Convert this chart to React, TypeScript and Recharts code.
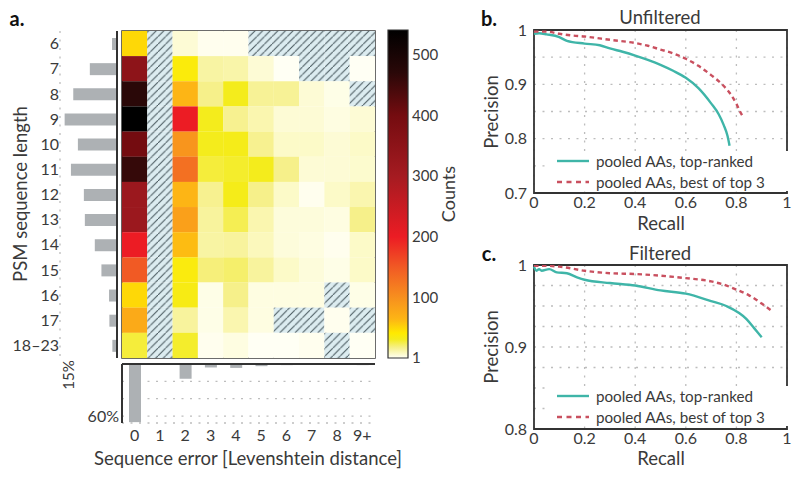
import React from "react";
import {
  Bar,
  BarChart,
  CartesianGrid,
  Legend,
  Line,
  LineChart,
  ReferenceArea,
  ReferenceLine,
  Scatter,
  ScatterChart,
  XAxis,
  YAxis,
} from "recharts";

const FONT = "Lato, sans-serif";
const INK = "#3a3a3a";
const SPINE = "#333333";
const GREY_BAR = "#adb1b4";
const GRID = "#bdbdbd";
const TEAL = "#3fb5a8";
const RED = "#c9505f";

const rowLabels = ["6", "7", "8", "9", "10", "11", "12", "13", "14", "15", "16", "17", "18–23"];
const colLabels = ["0", "1", "2", "3", "4", "5", "6", "7", "8", "9+"];

// null = no PSMs (hatched)
const counts: (number | null)[][] = [
  [50, null, 6, 2, 2, null, null, null, null, null],
  [350, null, 38, 14, 13, 6, 1, null, null, 1],
  [470, null, 65, 18, 32, 16, 16, 6, 3, null],
  [540, null, 200, 32, 17, 12, 6, 6, 4, 6],
  [400, null, 95, 32, 33, 17, 8, 8, 6, 8],
  [460, null, 130, 28, 30, 32, 18, 6, 6, 7],
  [320, null, 65, 17, 33, 18, 8, 2, 8, 12],
  [320, null, 85, 15, 25, 12, 5, 5, 4, 18],
  [200, null, 62, 14, 15, 10, 5, 4, 2, 8],
  [150, null, 37, 20, 22, 15, 8, 5, 3, 8],
  [50, null, 35, 3, 18, 4, 4, 4, null, 3],
  [75, null, 15, 3, 12, 4, null, null, 2, null],
  [28, null, 30, 2, 4, 1, 1, 2, null, 1],
];

const lengthShare = [1.5, 8.2, 13.2, 15.8, 11.8, 13.9, 10, 9.7, 6.7, 4.7, 2.4, 2.3, 1.4];
const errorShare = [67, 0, 17, 4, 4.5, 2.5, 1.3, 1, 0.3, 1.3];

const countTicks = [1, 100, 200, 300, 400, 500];
const colorStops: [number, string][] = [
  [1, "#fffff4"],
  [8, "#fcfac8"],
  [18, "#f6f08a"],
  [32, "#f4ec1c"],
  [42, "#ffea00"],
  [65, "#fdb515"],
  [100, "#f7901e"],
  [150, "#f15a24"],
  [200, "#ec1c24"],
  [300, "#a51b21"],
  [400, "#740c10"],
  [470, "#2a0808"],
  [540, "#000000"],
];

const recallB1 = [0, 0.02, 0.05, 0.1, 0.13, 0.2, 0.26, 0.3, 0.35, 0.4, 0.45, 0.5, 0.55, 0.6, 0.65, 0.7, 0.73, 0.75, 0.765, 0.773];
const precisionB1 = [0.993, 0.994, 0.992, 0.987, 0.98, 0.975, 0.972, 0.966, 0.96, 0.953, 0.945, 0.936, 0.925, 0.912, 0.893, 0.865, 0.845, 0.825, 0.805, 0.787];
const recallB2 = [0, 0.05, 0.1, 0.15, 0.2, 0.3, 0.4, 0.45, 0.5, 0.55, 0.6, 0.65, 0.7, 0.75, 0.78, 0.8, 0.82, 0.83];
const precisionB2 = [0.997, 0.997, 0.993, 0.99, 0.988, 0.982, 0.976, 0.971, 0.964, 0.957, 0.947, 0.934, 0.917, 0.897, 0.88, 0.864, 0.845, 0.838];
const recallC1 = [0, 0.01, 0.02, 0.03, 0.06, 0.09, 0.13, 0.17, 0.2, 0.3, 0.4, 0.5, 0.6, 0.7, 0.76, 0.84, 0.87, 0.9];
const precisionC1 = [0.998, 0.993, 0.995, 0.993, 0.995, 0.991, 0.99, 0.985, 0.982, 0.978, 0.975, 0.969, 0.965, 0.956, 0.95, 0.934, 0.923, 0.912];
const recallC2 = [0, 0.05, 0.1, 0.2, 0.3, 0.4, 0.5, 0.6, 0.7, 0.75, 0.8, 0.85, 0.9, 0.94];
const precisionC2 = [0.999, 0.999, 0.998, 0.993, 0.99, 0.989, 0.987, 0.984, 0.98, 0.976, 0.97, 0.963, 0.953, 0.944];

const recallTicks = [0, 0.2, 0.4, 0.6, 0.8, 1];
const precisionTicksB = [0.7, 0.75, 0.8, 0.85, 0.9, 0.95, 1];
const precisionTicksC = [0.8, 0.825, 0.85, 0.875, 0.9, 0.925, 0.95, 0.975, 1];
const precisionLabelsB = [0.7, 0.8, 0.9, 1];
const precisionLabelsC = [0.8, 0.9, 1];

const seriesNames = ["pooled AAs, top-ranked", "pooled AAs, best of top 3"];

const zip = (recall: number[], precision: number[]) =>
  recall.map((r, i) => ({ recall: r, precision: precision[i] }));

const lengthTable = rowLabels.map((label, i) => ({ label, share: lengthShare[i] }));
const errorTable = colLabels.map((label, i) => ({ label, share: errorShare[i] }));
const cellTable = counts.flatMap((row, r) =>
  row.map((count, c) => ({ col: c, row: r, count }))
);
const colIndex = colLabels.map((_, i) => i);
const rowIndex = rowLabels.map((_, i) => i);

function hexToRgb(hex: string) {
  return [1, 3, 5].map((i) => parseInt(hex.slice(i, i + 2), 16));
}

function countColor(v: number) {
  for (let i = 1; i < colorStops.length; i++) {
    const [v0, c0] = colorStops[i - 1];
    const [v1, c1] = colorStops[i];
    if (v <= v1) {
      const t = (v - v0) / (v1 - v0);
      const a = hexToRgb(c0);
      const b = hexToRgb(c1);
      return `rgb(${a.map((x, k) => Math.round(x + (b[k] - x) * t)).join(",")})`;
    }
  }
  return "#000000";
}

function HeatCell(props: any) {
  const { cx, cy, payload } = props;
  const w = 25.4;
  const h = 25.25;
  return (
    <rect
      x={cx - w / 2}
      y={cy - h / 2}
      width={w}
      height={h}
      fill={payload.count === null ? "url(#hatch)" : countColor(payload.count)}
      stroke="none"
    />
  );
}

const NoLabel = () => <g />;

function Caption({ x, y, size = 18.5, bold, rotate, children }: any) {
  return (
    <div
      style={{
        position: "absolute",
        left: x,
        top: y,
        transform: `translate(-50%, -50%)${rotate ? ` rotate(${rotate}deg)` : ""}`,
        fontFamily: FONT,
        fontSize: size,
        fontWeight: bold ? 700 : 400,
        color: bold ? "#111" : INK,
        whiteSpace: "nowrap",
        lineHeight: 1,
      }}
    >
      {children}
    </div>
  );
}

function PrLegend({ payload }: any) {
  return (
    <div style={{ background: "#fff", height: 40 }}>
      {(payload || []).map((entry: any, i: number) => (
        <div key={i} style={{ position: "absolute", left: 7, top: i * 20.7, height: 20, whiteSpace: "nowrap" }}>
          <svg width={34} height={20} style={{ position: "absolute", left: 0, top: 0 }}>
            <line
              x1={0}
              x2={32}
              y1={10}
              y2={10}
              stroke={entry.color}
              strokeWidth={2.4}
              strokeDasharray={i === 1 ? "5 4.5" : undefined}
            />
          </svg>
          <span
            style={{
              position: "absolute",
              left: 39,
              top: 1,
              fontFamily: FONT,
              fontSize: 15.2,
              lineHeight: "18px",
              color: INK,
            }}
          >
            {entry.value}
          </span>
        </div>
      ))}
    </div>
  );
}

function PrPanel({ top, plotHeight, domain, ticks, labels, line1, line2, legendTop }: any) {
  return (
    <div style={{ position: "absolute", left: 470, top: top - 10 }}>
      <LineChart
        width={325}
        height={plotHeight + 60}
        margin={{ top: 10, right: 8, bottom: 0, left: 24 }}
      >
        <CartesianGrid stroke={GRID} strokeWidth={1.3} strokeDasharray="2 6.5" />
        <XAxis
          dataKey="recall"
          type="number"
          domain={[0, 1]}
          ticks={recallTicks}
          interval={0}
          height={50}
          axisLine={false}
          tickLine={false}
          tickSize={0}
          tickMargin={4}
          tick={{ fontFamily: FONT, fontSize: 16, fill: INK }}
          tickFormatter={(v: number) => (v === 0 || v === 1 ? String(v) : v.toFixed(1))}
        />
        <YAxis
          type="number"
          domain={domain}
          ticks={ticks}
          interval={0}
          allowDataOverflow
          width={40}
          axisLine={false}
          tickLine={false}
          tickSize={0}
          tickMargin={7}
          tick={{ fontFamily: FONT, fontSize: 16, fill: INK }}
          tickFormatter={(v: number) => (labels.includes(v) ? String(v) : "")}
        />
        <Legend
          layout="vertical"
          align="center"
          verticalAlign="middle"
          itemSorter={null}
          content={<PrLegend />}
          wrapperStyle={{ left: 80, top: legendTop + 10, width: 238, height: 40 }}
        />
        <Line
          data={line1}
          dataKey="precision"
          name={seriesNames[0]}
          type="monotone"
          stroke={TEAL}
          strokeWidth={2.4}
          dot={false}
          isAnimationActive={false}
        />
        <Line
          data={line2}
          dataKey="precision"
          name={seriesNames[1]}
          type="monotone"
          stroke={RED}
          strokeWidth={2.4}
          strokeDasharray="4.5 3.5"
          dot={false}
          isAnimationActive={false}
        />
        <ReferenceArea
          x1={0}
          x2={1}
          y1={domain[0]}
          y2={domain[1]}
          fill="none"
          stroke={SPINE}
          strokeWidth={1.8}
          ifOverflow="visible"
        />
      </LineChart>
    </div>
  );
}

export default function App() {
  return (
    <div style={{ position: "absolute", left: 0, top: 0, width: 800, height: 478, background: "#fff", overflow: "hidden" }}>
      {/* length marginal */}
      <div style={{ position: "absolute", left: 0, top: 31 }}>
        <BarChart
          width={119}
          height={329}
          layout="vertical"
          data={lengthTable}
          margin={{ top: 0, right: 2, bottom: 2, left: 0 }}
          barCategoryGap={0}
        >
          <CartesianGrid horizontal={false} stroke={GRID} strokeWidth={1.3} strokeDasharray="2 6.5" />
          <XAxis
            type="number"
            reversed
            domain={[0, 17.2]}
            ticks={[5, 10, 15]}
            height={0}
            tick={false}
            tickLine={false}
            axisLine={{ stroke: SPINE, strokeWidth: 2 }}
          />
          <YAxis
            type="category"
            dataKey="label"
            interval={0}
            width={60}
            axisLine={false}
            tickLine={false}
            tickSize={0}
            tickMargin={1}
            tick={{ fontFamily: FONT, fontSize: 16, fill: INK }}
          />
          <Bar dataKey="share" fill={GREY_BAR} barSize={12} isAnimationActive={false} />
          <ReferenceLine x={0} stroke={SPINE} strokeWidth={2} />
        </BarChart>
      </div>

      {/* heat map */}
      <div style={{ position: "absolute", left: 120, top: 29 }}>
        <ScatterChart width={257} height={331} margin={{ top: 2, right: 2, bottom: 2, left: 2 }}>
          <defs>
            <pattern id="hatch" patternUnits="userSpaceOnUse" width={7.6} height={7.6}>
              <rect width={7.6} height={7.6} fill="#dcecf0" />
              <line x1={-1} y1={8.6} x2={8.6} y2={-1} stroke="#46565c" strokeWidth={1.05} />
            </pattern>
          </defs>
          <Scatter data={cellTable} shape={HeatCell} isAnimationActive={false} />
          <XAxis
            dataKey="col"
            type="number"
            domain={[-0.5, 9.5]}
            ticks={colIndex}
            interval={0}
            height={0}
            mirror
            tick={NoLabel}
            tickSize={4}
            axisLine={false}
            tickLine={{ stroke: SPINE }}
          />
          <XAxis
            xAxisId="top"
            orientation="top"
            type="number"
            domain={[-0.5, 9.5]}
            ticks={colIndex}
            interval={0}
            height={0}
            mirror
            tick={NoLabel}
            tickSize={4}
            axisLine={false}
            tickLine={{ stroke: SPINE }}
          />
          <YAxis
            dataKey="row"
            type="number"
            reversed
            domain={[-0.5, 12.5]}
            ticks={rowIndex}
            interval={0}
            width={0}
            mirror
            tick={NoLabel}
            tickSize={4}
            axisLine={false}
            tickLine={{ stroke: SPINE }}
          />
          <YAxis
            yAxisId="right"
            orientation="right"
            type="number"
            reversed
            domain={[-0.5, 12.5]}
            ticks={rowIndex}
            interval={0}
            width={0}
            mirror
            tick={NoLabel}
            tickSize={4}
            axisLine={false}
            tickLine={{ stroke: SPINE }}
          />
          <ReferenceArea
            x1={-0.5}
            x2={9.5}
            y1={-0.5}
            y2={12.5}
            fill="none"
            stroke={SPINE}
            strokeWidth={1.5}
            ifOverflow="visible"
          />
        </ScatterChart>
      </div>

      {/* colour bar */}
      <div style={{ position: "absolute", left: 386, top: 20 }}>
        <BarChart
          width={70}
          height={348}
          data={[{ name: "Counts", top: 540 }]}
          margin={{ top: 10, right: 2, bottom: 10, left: 2 }}
          barCategoryGap={0}
        >
          <defs>
            <linearGradient id="countRamp" x1="0" y1="1" x2="0" y2="0">
              {colorStops.map(([v, c]) => (
                <stop key={v} offset={(v - 1) / 539} stopColor={c} />
              ))}
            </linearGradient>
          </defs>
          <XAxis dataKey="name" height={0} tick={false} tickLine={false} axisLine={false} />
          <YAxis
            orientation="right"
            type="number"
            domain={[1, 540]}
            ticks={countTicks}
            interval={0}
            width={46}
            axisLine={false}
            tickLine={false}
            tickSize={0}
            tickMargin={4}
            tick={{ fontFamily: FONT, fontSize: 15, fill: INK, textAnchor: "start" }}
          />
          <Bar dataKey="top" fill="url(#countRamp)" stroke={SPINE} strokeWidth={1.2} isAnimationActive={false} />
        </BarChart>
      </div>

      {/* error marginal */}
      <div style={{ position: "absolute", left: 60, top: 355 }}>
        <BarChart
          width={317}
          height={123}
          data={errorTable}
          margin={{ top: 9, right: 2, bottom: 0, left: 0 }}
          barCategoryGap={0}
        >
          <CartesianGrid vertical={false} stroke={GRID} strokeWidth={1.3} strokeDasharray="2 6.5" />
          <XAxis
            dataKey="label"
            interval={0}
            height={55}
            axisLine={false}
            tickLine={false}
            tickSize={0}
            tickMargin={7}
            tick={{ fontFamily: FONT, fontSize: 16, fill: INK }}
          />
          <YAxis
            type="number"
            reversed
            domain={[0, 68]}
            ticks={[20, 40, 60]}
            interval={0}
            width={62}
            axisLine={{ stroke: SPINE, strokeWidth: 2 }}
            tickLine={false}
            tickSize={0}
            tickMargin={3}
            tick={{ fontFamily: FONT, fontSize: 16, fill: INK }}
            tickFormatter={(v: number) => (v === 60 ? "60%" : "")}
          />
          <Bar dataKey="share" fill={GREY_BAR} barSize={12} isAnimationActive={false} />
          <ReferenceLine y={0} stroke={SPINE} strokeWidth={2} />
        </BarChart>
      </div>

      <PrPanel
        top={30}
        plotHeight={163}
        domain={[0.7, 1]}
        ticks={precisionTicksB}
        labels={precisionLabelsB}
        line1={zip(recallB1, precisionB1)}
        line2={zip(recallB2, precisionB2)}
        legendTop={121}
      />
      <PrPanel
        top={265}
        plotHeight={164}
        domain={[0.8, 1]}
        ticks={precisionTicksC}
        labels={precisionLabelsC}
        line1={zip(recallC1, precisionC1)}
        line2={zip(recallC2, precisionC2)}
        legendTop={121}
      />

      <Caption x={17} y={18} size={20} bold>a.</Caption>
      <Caption x={489} y={18} size={20} bold>b.</Caption>
      <Caption x={489} y={253} size={20} bold>c.</Caption>
      <Caption x={20} y={194} rotate={-90}>PSM sequence length</Caption>
      <Caption x={68} y={375} size={15} rotate={-90}>15%</Caption>
      <Caption x={248} y={458}>Sequence error [Levenshtein distance]</Caption>
      <Caption x={448} y={194} size={18} rotate={-90}>Counts</Caption>
      <Caption x={660} y={17}>Unfiltered</Caption>
      <Caption x={660} y={253}>Filtered</Caption>
      <Caption x={661} y={223}>Recall</Caption>
      <Caption x={661} y={458}>Recall</Caption>
      <Caption x={491} y={112} rotate={-90}>Precision</Caption>
      <Caption x={491} y={347} rotate={-90}>Precision</Caption>
    </div>
  );
}
